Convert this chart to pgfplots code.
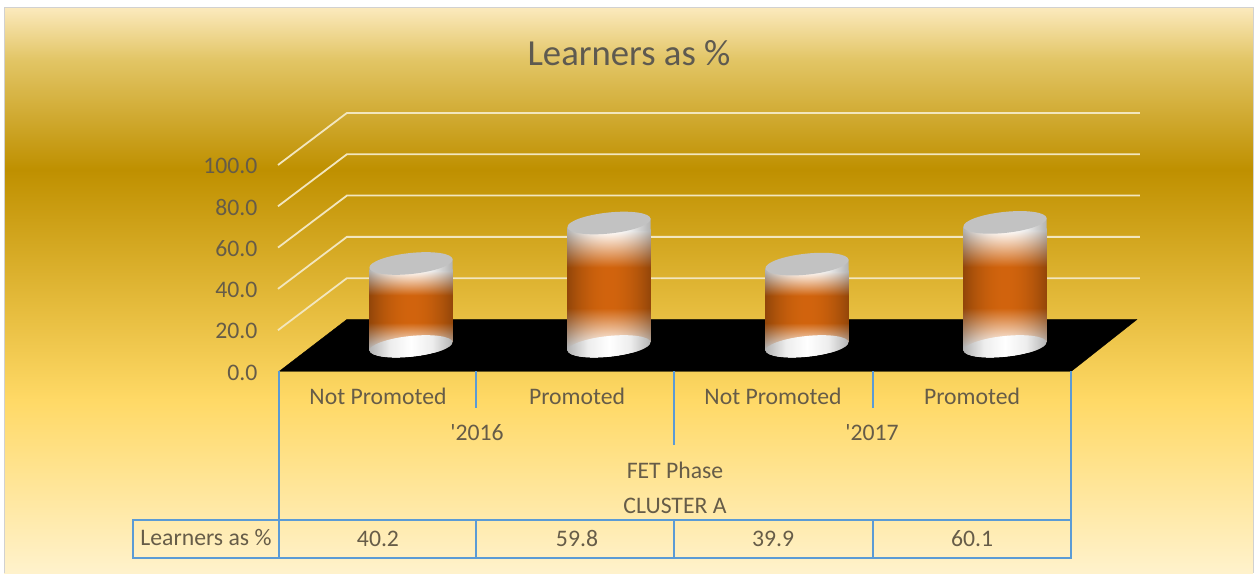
\documentclass[border=0pt]{standalone}
\usepackage{fontspec}
\setmainfont{Carlito}
\newfontfamily\plainf{Carlito}
\usepackage{pgfplots}
\usepackage{pgfplotstable}
\pgfplotsset{compat=1.18}

\definecolor{tablebl}{HTML}{5B9BD5}
\definecolor{labelc}{HTML}{665C48}
\definecolor{titlec}{HTML}{5E5A50}
\definecolor{wallc}{HTML}{F2E6BE}
\definecolor{bgA}{HTML}{FFF2CC}
\definecolor{bgB}{HTML}{FFD966}
\definecolor{bgC}{HTML}{BF9000}
\definecolor{bgD}{HTML}{E2C565}
\definecolor{bgE}{HTML}{FBE9BC}

% page background, stops run 25bp (bottom) to 75bp (top)
\pgfdeclareverticalshading{goldbg}{100bp}{
  color(0bp)=(bgA);
  color(25bp)=(bgA);
  color(40.3bp)=(bgB);
  color(60.7bp)=(bgC);
  color(70.4bp)=(bgD);
  color(75bp)=(bgE);
  color(100bp)=(bgE)}

% cylinder body: white ends, orange middle, darker at the sides
\pgfdeclarefunctionalshading{cyl}{\pgfpointorigin}{\pgfpoint{100bp}{100bp}}{}{
  25 sub 50 div
  dup 0.36 div 1 exch sub 1.15 mul
  exch 1 exch sub 0.31 div 1 exch sub 1.05 mul
  2 copy gt {pop} {exch pop} ifelse
  dup 0 lt {pop 0} if
  dup 1 gt {pop 1} if
  exch 25 sub 50 div 2 mul 1 sub dup mul
  0.30 mul 1 exch sub
  exch
  1 index 1 index 0.18 mul 0.82 add mul
  2 index 2 index 0.61 mul 0.39 add mul
  3 index 3 index 0.95 mul 0.05 add mul
  5 -2 roll pop pop
}
\pgfdeclarehorizontalshading{cylwhite}{100bp}{
  color(0bp)=(black!30);
  color(25bp)=(black!30);
  color(37.5bp)=(black!7);
  color(50bp)=(white);
  color(62.5bp)=(black!7);
  color(75bp)=(black!30);
  color(100bp)=(black!30)}

\pgfdeclareplotmark{cyltop}{%
  \pgfpathmoveto{\pgfqpoint{-41.5pt}{-8pt}}%
  \pgfpathlineto{\pgfqpoint{41.5pt}{-8pt}}%
  \pgfpathlineto{\pgfqpoint{41.5pt}{4.4pt}}%
  \pgfpathlineto{\pgfqpoint{-41.5pt}{-4.4pt}}%
  \pgfpathclose
  \pgfshadepath{cylwhite}{0}%
  \pgfusepath{discard}%
  \pgfsetfillcolor{black!24}%
  \pgftransformrotate{6}%
  \pgfpathellipse{\pgfpointorigin}{\pgfqpoint{41.8pt}{0pt}}{\pgfqpoint{0pt}{10.5pt}}%
  \pgfusepathqfill}
\pgfdeclareplotmark{cylbase}{%
  \pgftransformrotate{6}%
  \pgfpathellipse{\pgfpointorigin}{\pgfqpoint{41.8pt}{0pt}}{\pgfqpoint{0pt}{10.5pt}}%
  \pgfshadepath{cylwhite}{0}%
  \pgfusepath{discard}}
% black floor over the square corners of the bar, below the base ellipse
\pgfdeclareplotmark{cylmask}{%
  \pgfsetfillcolor{black}%
  \pgftransformrotate{6}%
  \pgfpathmoveto{\pgfqpoint{41.8pt}{0pt}}%
  \pgfpatharc{0}{-180}{41.8pt and 10.5pt}%
  \pgfpathlineto{\pgfqpoint{-44pt}{0pt}}%
  \pgfpathlineto{\pgfqpoint{-44pt}{-16pt}}%
  \pgfpathlineto{\pgfqpoint{44pt}{-16pt}}%
  \pgfpathlineto{\pgfqpoint{44pt}{0pt}}%
  \pgfpathclose
  \pgfusepathqfill}

\pgfplotstableread{
x val
0 40.2
1 59.8
2 39.9
3 60.1
}\learners

\begin{document}
\begin{tikzpicture}[x=1pt,y=1pt]
\path[use as bounding box] (0,0) rectangle (1255,573);
\fill[white] (0,0) rectangle (1255,573);
\shade[shading=goldbg] (4,0) rectangle (1253,565);
\draw[black!18,line width=1pt] (4,0) -- (4,565) -- (1253,565) -- (1253,0);

\begin{axis}[
  at={(279pt,201.5pt)}, anchor=south west,
  scale only axis, width=792pt, height=206.5pt,
  xmin=-0.5, xmax=3.5, ymin=0, ymax=100,
  clip=false,
  axis line style={draw=none},
  xtick=\empty,
  ytick={0,20,40,60,80,100},
  major tick length=0pt,
  yticklabel style={
    /pgf/number format/fixed, /pgf/number format/fixed zerofill,
    /pgf/number format/precision=1, /pgf/number format/assume math mode=true,
    font=\fontsize{23.7}{28}\selectfont, text=labelc, xshift=-18pt, yshift=-1pt},
]
% walls
\pgfplotsinvokeforeach{20,40,60,80,100}{
  \pgfmathsetmacro{\bk}{#1+25.2}
  \addplot[wallc, line width=1.8pt, forget plot] coordinates {(-0.505,#1) (-0.157,\bk) (3.848,\bk)};
}
% floor
\addplot[black, fill=black, forget plot] coordinates {(-0.5,0) (-0.157,25.2) (3.833,25.2) (3.5,0)} -- cycle;
% cylinders, sitting mid-way into the floor
\addplot[only marks, mark=cylbase, xshift=33pt, yshift=25pt] table[x=x,y expr=0] {\learners};
\addplot[ybar, bar width=83pt, draw=none, shade, shading=cyl, xshift=33pt, yshift=19pt] coordinates {(0,40.2)};
\addplot[ybar, bar width=83pt, draw=none, shade, shading=cyl, xshift=33pt, yshift=19pt] coordinates {(1,59.8)};
\addplot[ybar, bar width=83pt, draw=none, shade, shading=cyl, xshift=33pt, yshift=19pt] coordinates {(2,39.9)};
\addplot[ybar, bar width=83pt, draw=none, shade, shading=cyl, xshift=33pt, yshift=19pt] coordinates {(3,60.1)};
\addplot[only marks, mark=cylmask, xshift=33pt, yshift=25pt] table[x=x,y expr=0] {\learners};
\addplot[only marks, mark=cyltop, xshift=33pt, yshift=25pt] table[x=x,y=val] {\learners};
\end{axis}

% data table under the chart
\begin{scope}[tablebl, line width=1.6pt]
\draw (279,201.5) -- (279,15);
\draw (1071,201.5) -- (1071,15);
\draw (476,201.5) -- (476,165);
\draw (674,201.5) -- (674,128);
\draw (873,201.5) -- (873,165);
\draw (133,53) -- (1071,53);
\draw (133,53) rectangle (1071,15);
\draw (476,53) -- (476,15);
\draw (674,53) -- (674,15);
\draw (873,53) -- (873,15);
\end{scope}

\begin{scope}[every node/.style={text=labelc, font=\fontsize{23.7}{28}\selectfont, inner sep=0pt, text height=15pt, text depth=4pt}]
\node at (378,173.8) {Not Promoted};
\node at (577,173.8) {Promoted};
\node at (773,173.8) {Not Promoted};
\node at (972,173.8) {Promoted};
\node at (477,138) {\plainf '2016};
\node at (872,138) {\plainf '2017};
\node at (675,100.5) {FET Phase};
\node at (675,65.5) {CLUSTER A};
\node at (206,33.5) {Learners as \%};
\node at (378,32) {40.2};
\node at (577,32) {59.8};
\node at (773,32) {39.9};
\node at (972,32) {60.1};
\end{scope}
\node[text=titlec, font=\fontsize{36.7}{42}\selectfont, inner sep=0pt] at (629,520) {Learners as \%};
\end{tikzpicture}
\end{document}
